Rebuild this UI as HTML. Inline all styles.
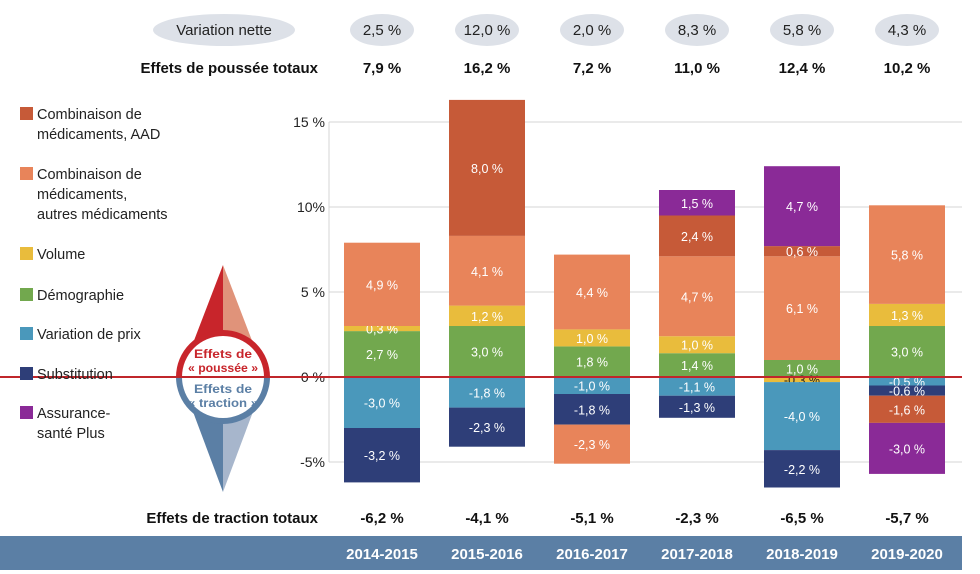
<!DOCTYPE html>
<html><head><meta charset="utf-8">
<style>
body{margin:0;background:#fff;font-family:"Liberation Sans",sans-serif;}
#wrap{position:relative;width:980px;height:574px;overflow:hidden;}
</style></head>
<body>
<div id="wrap">
<svg id="svg" width="980" height="574"></svg>
</div>
<script>
const years=["2014-2015","2015-2016","2016-2017","2017-2018","2018-2019","2019-2020"];
const netLabels=["2,5 %","12,0 %","2,0 %","8,3 %","5,8 %","4,3 %"];
const pushLabels=["7,9 %","16,2 %","7,2 %","11,0 %","12,4 %","10,2 %"];
const pullLabels=["-6,2 %","-4,1 %","-5,1 %","-2,3 %","-6,5 %","-5,7 %"];
const aad=[0,8.0,0,2.4,0.6,-1.6];
const autres=[4.9,4.1,4.4,4.7,6.1,5.8];
const autresNeg=[0,0,-2.3,0,0,0];
const volume=[0.3,1.2,1.0,1.0,-0.3,1.3];
const demo=[2.7,3.0,1.8,1.4,1.0,3.0];
const prix=[-3.0,-1.8,-1.0,-1.1,-4.0,-0.5];
const subst=[-3.2,-2.3,-1.8,-1.3,-2.2,-0.6];
const assur=[0,0,0,1.5,4.7,-3.0];
const yTicks=[15,10,5,0,-5];
const yTickLabels=["15 %","10%","5 %","0 %","-5%"];

const NS="http://www.w3.org/2000/svg";
const svg=document.getElementById('svg');
function el(t,a,p){const e=document.createElementNS(NS,t);for(const k in a)e.setAttribute(k,a[k]);(p||svg).appendChild(e);return e;}
const y=v=>377-v*17;
const xc=i=>382+i*105;
const BW=76;
const fmt=v=>v.toFixed(1).replace('.',',')+' %';

yTicks.forEach((t,i)=>{
  if(t!==0){const g=el('line',{x1:329,x2:962,y1:y(t),y2:y(t),stroke:'#d4d4d4','stroke-width':1});
  }
  const tx=el('text',{x:325,y:y(t)+5,'text-anchor':'end','font-size':14,fill:'#222'});
  tx.textContent=yTickLabels[i];
  
});
const ax=el('line',{x1:329,x2:329,y1:y(15),y2:y(-5),stroke:'#d4d4d4'});


const S={aad:[aad,'#c65a38'],autres:[autres,'#e8845a'],autresNeg:[autresNeg,'#e8845a'],volume:[volume,'#e9bc3c'],demo:[demo,'#72a84e'],prix:[prix,'#4a98bb'],subst:[subst,'#2e3e78'],assur:[assur,'#8a2a97']};
const posOrder=['demo','volume','autres','aad','assur'];
const negOrder=['volume','prix','subst','autresNeg','aad','assur'];
years.forEach((yr,i)=>{
  let top=0;
  posOrder.forEach(k=>{const v=S[k][0][i];if(v>0){
    const r=el('rect',{x:xc(i)-BW/2,y:y(top+v),width:BW,height:v*17,fill:S[k][1]});
    
    const t=el('text',{x:xc(i),y:y(top+v/2)+5,'text-anchor':'middle','font-size':12.5,fill:'#fff'});
    t.textContent=fmt(v);
    top+=v;}});
  let bot=0;
  negOrder.forEach(k=>{const v=S[k][0][i];if(v<0){
    const r=el('rect',{x:xc(i)-BW/2,y:y(bot),width:BW,height:-v*17,fill:S[k][1]});
    
    const t=el('text',{x:xc(i),y:y(bot+v/2)+5,'text-anchor':'middle','font-size':12.5,fill:(k==='volume'?'#222':'#fff')});
    t.textContent=fmt(v);
    bot+=v;}});
});
const zl=el('line',{x1:0,x2:962,y1:y(0),y2:y(0),stroke:'#c0262b','stroke-width':2});


const ve=el('ellipse',{cx:224,cy:30,rx:71,ry:16,fill:'#dde1e8'});

let t=el('text',{x:224,y:35,'text-anchor':'middle','font-size':15,fill:'#222'});t.textContent='Variation nette';

t=el('text',{x:318,y:73,'text-anchor':'end','font-size':15,'font-weight':'bold',fill:'#111'});t.textContent='Effets de poussée totaux';

t=el('text',{x:318,y:523,'text-anchor':'end','font-size':15,'font-weight':'bold',fill:'#111'});t.textContent='Effets de traction totaux';

years.forEach((yr,i)=>{
  const e=el('ellipse',{cx:xc(i),cy:30,rx:32,ry:16,fill:'#dde1e8'});
  
  let a=el('text',{x:xc(i),y:35,'text-anchor':'middle','font-size':15,fill:'#222'});a.textContent=netLabels[i];
  
  a=el('text',{x:xc(i),y:73,'text-anchor':'middle','font-size':15,'font-weight':'bold',fill:'#111'});a.textContent=pushLabels[i];
  
  a=el('text',{x:xc(i),y:523,'text-anchor':'middle','font-size':15,'font-weight':'bold',fill:'#111'});a.textContent=pullLabels[i];
  
});
const band=el('rect',{x:0,y:536,width:962,height:34,fill:'#5b7fa5'});

years.forEach((yr,i)=>{
  const a=el('text',{x:xc(i),y:559,'text-anchor':'middle','font-size':15,'font-weight':'bold',fill:'#fff'});a.textContent=yr;
  
});

const legend=[[113,['Combinaison de','médicaments, AAD'],'#c65a38'],[173,['Combinaison de','médicaments,','autres médicaments'],'#e8845a'],[253,['Volume'],'#e9bc3c'],[294,['Démographie'],'#72a84e'],[333,['Variation de prix'],'#4a98bb'],[373,['Substitution'],'#2e3e78'],[412,['Assurance-','santé Plus'],'#8a2a97']];
legend.forEach(([yy,lines,c])=>{
  const r=el('rect',{x:20,y:yy-6,width:13,height:13,fill:c});
  
  lines.forEach((l,k)=>{const a=el('text',{x:37,y:yy+6+k*20,'font-size':14.5,fill:'#222'});a.textContent=l;
    });
});

const g=el('g',{});
el('polygon',{points:'223,265 223,377 180,377',fill:'#c8252b'},g);
el('polygon',{points:'223,265 266,377 223,377',fill:'#e0937a'},g);
el('polygon',{points:'223,492 223,377 180,377',fill:'#5b7fa5'},g);
el('polygon',{points:'223,492 266,377 223,377',fill:'#a7b6cc'},g);
el('path',{d:'M176,377 A47,47 0 0 1 270,377 Z',fill:'#c8252b'},g);
el('path',{d:'M176,377 A47,47 0 0 0 270,377 Z',fill:'#5b7fa5'},g);
el('circle',{cx:223,cy:377,r:41,fill:'#fff'},g);
el('line',{x1:176,x2:270,y1:377,y2:377,stroke:'#c0262b','stroke-width':2},g);
[['Effets de',358,'#c8252b'],['« poussée »',372,'#c8252b'],['Effets de',393,'#5b7fa5'],['« traction »',407,'#5b7fa5']].forEach(([s,yy,c])=>{
  const a=el('text',{x:223,y:yy,'text-anchor':'middle','font-size':12,'font-weight':'bold',fill:c,'textLength':s.length>9?70:58,'lengthAdjust':'spacingAndGlyphs'},g);a.textContent=s;
  
});
</script>
</body></html>
